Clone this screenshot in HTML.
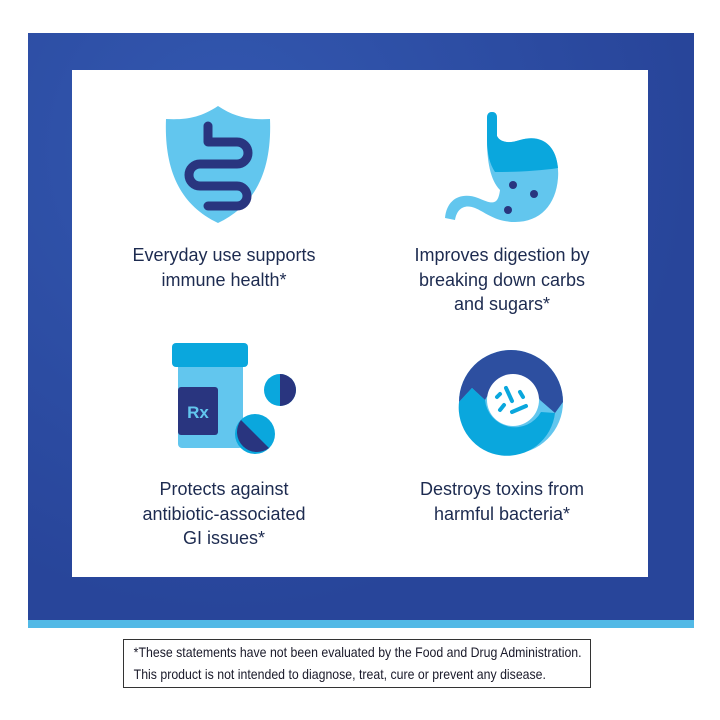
<!DOCTYPE html>
<html><head><style>
body{margin:0;width:720px;height:720px;background:#fff;position:relative;overflow:hidden;font-family:"Liberation Sans",sans-serif}
.panel{position:absolute;left:28px;top:33px;width:666px;height:588px;background:radial-gradient(circle at 30% 20%,#3358b0,#28459a 70%)}
.stripe{position:absolute;left:28px;top:620px;width:666px;height:8px;background:#52b9e6}
.white{position:absolute;left:72px;top:70px;width:576px;height:507px;background:#fff}
.t{position:absolute;width:280px;text-align:center;font-size:18px;line-height:24.5px;color:#1d2b50}
.disc{position:absolute;left:123px;top:639px;width:466px;height:47px;border:1px solid #333;font-size:14px;line-height:22px;color:#1a1a2a}
.disc div{transform:scaleX(0.88);transform-origin:left;white-space:nowrap;padding-left:11px}
</style></head><body>
<div class="panel"></div><div class="stripe"></div><div class="white"></div>
<svg style="position:absolute;left:0;top:0" width="720" height="720">
<!-- shield -->
<path d="M218 106 C200 118 185 120 166 119 C164 170 180 205 218 223 C256 205 272 170 270 119 C251 120 236 118 218 106Z" fill="#62c6ee"/>
<path d="M208 126 V142 H237 A11 11 0 0 1 237 164 H200 A11 11 0 0 0 200 186 H237 A10 10 0 0 1 237 206 H208" fill="none" stroke="#29357f" stroke-width="9" stroke-linecap="round" stroke-linejoin="round"/>
<!-- stomach -->
<path d="M487 118 Q487 112 492 112 Q497 112 497 118 V136 C500 142 508 144 520 140 C545 132 560 150 558 178 C556 205 540 222 515 222 C495 222 485 212 475 208 C465 204 457 208 455 220 L445 218 C447 198 462 192 478 198 C492 204 498 206 500 190 C490 180 487 160 487 140Z" fill="#62c6ee"/>
<path d="M487 140 Q487 160 495 172 C515 172 540 171 558 168 C556 145 542 134 520 140 C508 144 500 142 497 136 V118 Q497 112 492 112 Q487 112 487 118Z" fill="#0aa7dd"/>
<circle cx="513" cy="185" r="4" fill="#29357f"/><circle cx="534" cy="194" r="4" fill="#29357f"/><circle cx="508" cy="210" r="4" fill="#29357f"/>
<!-- bottle -->
<rect x="178" y="363" width="65" height="85" rx="4" fill="#62c6ee"/>
<rect x="172" y="343" width="76" height="24" rx="4" fill="#0aa7dd"/>
<rect x="178" y="387" width="40" height="48" rx="3" fill="#29357f"/>
<text x="198" y="418" font-size="17" font-weight="bold" fill="#62c6ee" text-anchor="middle" font-family="Liberation Sans,sans-serif">Rx</text>
<circle cx="280" cy="390" r="16" fill="#0aa7dd"/><path d="M280 374 A16 16 0 0 1 280 406Z" fill="#29357f"/>
<circle cx="255" cy="434" r="20" fill="#0aa7dd"/><path d="M241 420 A20 20 0 0 0 269 448Z" fill="#29357f"/>
<!-- circle -->
<circle cx="511" cy="402" r="52" fill="#62c6ee"/>
<path d="M459 402 A52 52 0 0 1 563 402 L555 413 L540 400 C530 380 495 380 485 400 L472 388Z" fill="#2d4fa0"/>
<path d="M459 402 L472 388 L485 400 A30 30 0 0 0 541 412 L555 413 A48 48 0 0 1 459 402Z" fill="#0aa7dd"/>
<circle cx="513" cy="400" r="26" fill="#fff"/>
<g stroke="#0aa7dd" stroke-width="4" stroke-linecap="round"><line x1="506" y1="388" x2="512" y2="401"/><line x1="520" y1="392" x2="523" y2="397"/><line x1="512" y1="412" x2="526" y2="406"/><line x1="500" y1="410" x2="504" y2="405"/><line x1="497" y1="397" x2="500" y2="394"/></g>
</svg>
<div class="t" style="left:84px;top:243px">Everyday use supports<br>immune health*</div>
<div class="t" style="left:362px;top:243px">Improves digestion by<br>breaking down carbs<br>and sugars*</div>
<div class="t" style="left:84px;top:477px">Protects against<br>antibiotic-associated<br>GI issues*</div>
<div class="t" style="left:362px;top:477px">Destroys toxins from<br>harmful bacteria*</div>
<div class="disc"><div style="margin-top:1px">*These statements have not been evaluated by the Food and Drug Administration.</div><div>This product is not intended to diagnose, treat, cure or prevent any disease.</div></div>
</body></html>
